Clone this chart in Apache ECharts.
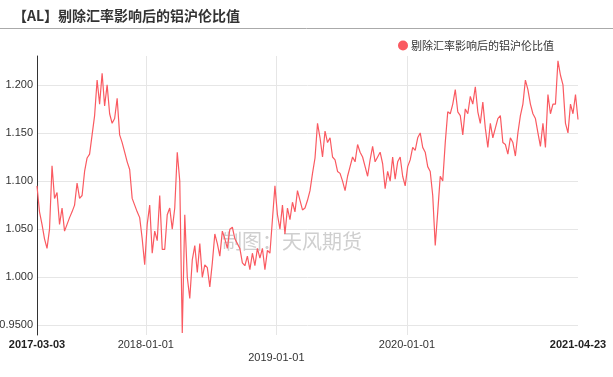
<!DOCTYPE html>
<html>
<head>
<meta charset="utf-8">
<script src="https://cdn.jsdelivr.net/npm/echarts@6/dist/echarts.min.js"></script>
<style>
  html, body { margin: 0; padding: 0; background: #fff; }
  #main { width: 613px; height: 377px; }
</style>
</head>
<body>
<div id="main"></div>
<script>
// 周度取样（2017-03-03 起，每周五）
var startDate = [2017, 2, 3];
var ratio = [
  1.095, 1.068, 1.055, 1.040, 1.030, 1.050, 1.116, 1.082, 1.088, 1.055,
  1.072, 1.048, 1.055, 1.062, 1.068, 1.075, 1.098, 1.082, 1.085, 1.110,
  1.124, 1.128, 1.148, 1.168, 1.205, 1.180, 1.212, 1.178, 1.200, 1.170,
  1.160, 1.165, 1.186, 1.148, 1.140, 1.130, 1.120, 1.112, 1.082, 1.075,
  1.068, 1.062, 1.040, 1.013, 1.055, 1.075, 1.025, 1.048, 1.038, 1.085,
  1.029, 1.029, 1.065, 1.072, 1.050, 1.072, 1.130, 1.100, 0.942, 1.065,
  1.000, 0.978, 1.018, 1.033, 1.005, 1.035, 1.000, 1.013, 1.010, 0.990,
  1.015, 1.045, 1.035, 1.022, 1.048, 1.040, 1.030, 1.050, 1.052, 1.040,
  1.035, 1.030, 1.015, 1.012, 1.022, 1.008, 1.025, 1.012, 1.030, 1.020,
  1.030, 1.008, 1.028, 1.025, 1.060, 1.095, 1.065, 1.050, 1.075, 1.045,
  1.072, 1.060, 1.078, 1.068, 1.090, 1.080, 1.070, 1.072, 1.080, 1.090,
  1.108, 1.124, 1.160, 1.145, 1.125, 1.152, 1.140, 1.145, 1.125, 1.122,
  1.110, 1.108, 1.100, 1.090, 1.105, 1.115, 1.125, 1.120, 1.138, 1.130,
  1.125, 1.115, 1.105, 1.122, 1.136, 1.120, 1.125, 1.130, 1.118, 1.092,
  1.110, 1.100, 1.125, 1.102, 1.120, 1.125, 1.105, 1.095, 1.115, 1.122,
  1.135, 1.132, 1.145, 1.150, 1.135, 1.130, 1.115, 1.110, 1.085, 1.033,
  1.068, 1.105, 1.100, 1.140, 1.172, 1.170, 1.180, 1.195, 1.172, 1.168,
  1.148, 1.175, 1.170, 1.188, 1.180, 1.198, 1.172, 1.160, 1.182, 1.155,
  1.135, 1.160, 1.145, 1.155, 1.165, 1.168, 1.140, 1.138, 1.128, 1.145,
  1.140, 1.126, 1.150, 1.168, 1.180, 1.205, 1.195, 1.180, 1.170, 1.165,
  1.150, 1.136, 1.160, 1.135, 1.190, 1.170, 1.180, 1.180, 1.225, 1.210,
  1.200, 1.160, 1.150, 1.180, 1.170, 1.190, 1.164
];
var xLabels = ['2017-03-03', '2018-01-01', '2019-01-01', '2020-01-01', '2021-04-23'];
var xGridDates = ['2018-01-01', '2019-01-01', '2020-01-01'];
var yTicks = [0.95, 1.0, 1.05, 1.1, 1.15, 1.2];

var seriesName = '剔除汇率影响后的铝沪伦比值';
var lineColor = '#fa5a61';
var fontFamily = '"Liberation Sans", Arial, "Noto Sans CJK SC", sans-serif';

function toTime(s) {
  var p = s.split('-');
  return new Date(+p[0], +p[1] - 1, +p[2]).getTime();
}
function pad(n) { return n < 10 ? '0' + n : '' + n; }
function fmtDate(t) {
  var d = new Date(t);
  return d.getFullYear() + '-' + pad(d.getMonth() + 1) + '-' + pad(d.getDate());
}

var data = ratio.map(function (v, i) {
  var d = new Date(startDate[0], startDate[1], startDate[2] + 7 * i);
  return [d.getTime(), v];
});

var myChart = echarts.init(document.getElementById('main'));

var option = {
  animation: false,
  backgroundColor: '#fff',
  textStyle: { fontFamily: fontFamily },
  title: {
    text: '【AL】剔除汇率影响后的铝沪伦比值',
    left: 8,
    top: 4,
    textStyle: {
      color: '#333',
      fontSize: 14,
      fontWeight: 'bold',
      fontFamily: '"Noto Sans CJK SC", sans-serif'
    }
  },
  legend: {
    data: [seriesName],
    right: 54,
    top: 35,
    icon: 'circle',
    itemWidth: 10,
    itemHeight: 10,
    textStyle: {
      color: '#333',
      fontSize: 11,
      padding: [0, 0, 0, -2],
      fontFamily: '"Noto Sans CJK SC", sans-serif'
    }
  },
  graphic: [
    {
      type: 'line',
      shape: { x1: 0, y1: 28.5, x2: 613, y2: 28.5 },
      style: { stroke: '#aaa', lineWidth: 1 },
      silent: true
    },
    {
      type: 'text',
      left: 222,
      top: 231,
      z: 0,
      silent: true,
      style: {
        text: '制图：天风期货',
        fill: '#cfcfcf',
        fontSize: 20,
        fontFamily: '"Noto Sans CJK SC", sans-serif'
      }
    }
  ],
  grid: {
    left: 37,
    right: 35,
    top: 56,
    bottom: 42,
    outerBoundsMode: 'none',
    containLabel: false
  },
  xAxis: {
    type: 'value',
    min: toTime(xLabels[0]),
    max: toTime(xLabels[xLabels.length - 1]),
    axisLine: { show: false },
    axisTick: { show: false, customValues: xGridDates.map(toTime) },
    splitLine: { show: true, lineStyle: { color: '#e6e6e6' } },
    axisLabel: {
      customValues: xLabels.map(toTime),
      color: '#333',
      fontSize: 11,
      lineHeight: 13,
      margin: 3,
      formatter: function (value) {
        var s = fmtDate(value);
        if (s === xLabels[0] || s === xLabels[xLabels.length - 1]) {
          return '{b|' + s + '}';
        }
        if (s === '2019-01-01') {
          return '\n' + s;
        }
        return s;
      },
      rich: {
        b: { fontWeight: 'bold', fontSize: 11, color: '#222', lineHeight: 13 }
      }
    }
  },
  yAxis: {
    type: 'value',
    min: 0.94,
    max: 1.23,
    axisLine: { show: true, lineStyle: { color: '#333' } },
    axisTick: { show: false, customValues: yTicks },
    splitLine: { show: true, lineStyle: { color: '#e6e6e6' } },
    axisLabel: {
      customValues: yTicks,
      color: '#333',
      fontSize: 11,
      margin: 4,
      formatter: function (v) { return v.toPrecision(4); }
    }
  },
  series: [
    {
      name: seriesName,
      type: 'line',
      data: data,
      showSymbol: false,
      symbol: 'circle',
      z: 3,
      itemStyle: { color: lineColor },
      lineStyle: { color: lineColor, width: 1.2 }
    }
  ]
};

myChart.setOption(option);

window.addEventListener('resize', function () {
  myChart.resize();
});
</script>
</body>
</html>
